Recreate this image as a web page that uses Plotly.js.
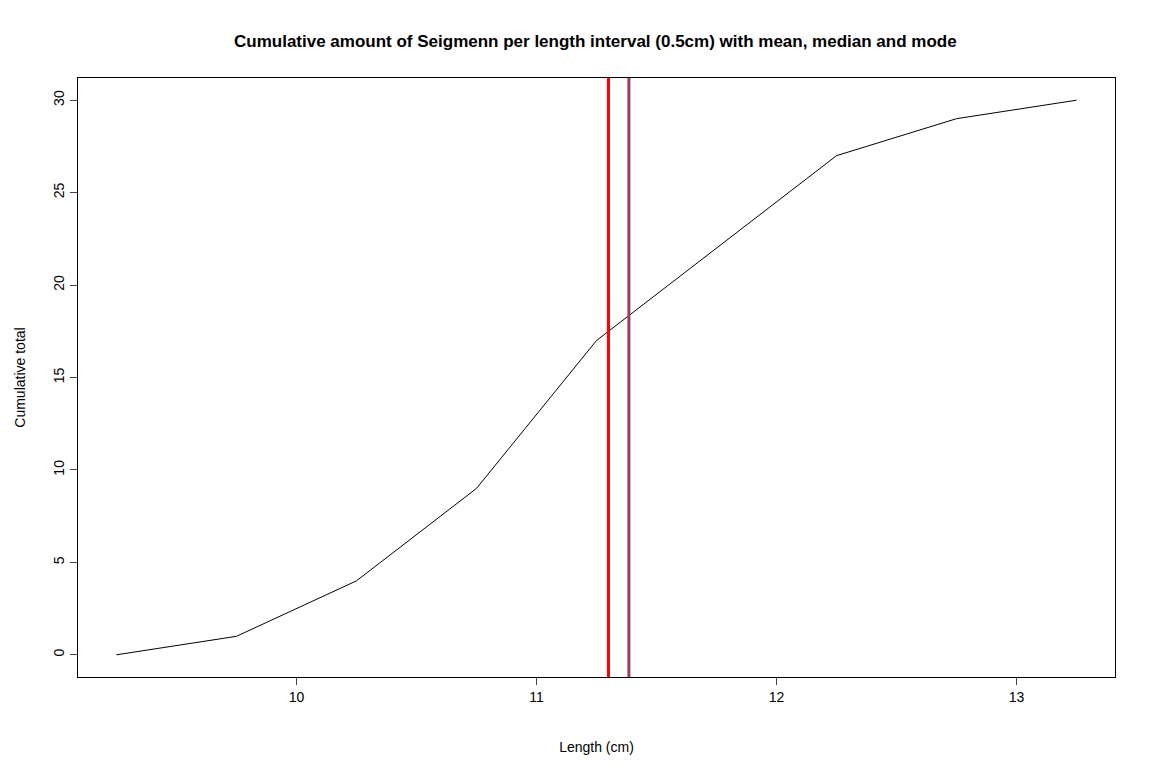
<!DOCTYPE html>
<html><head><script src="https://cdn.plot.ly/plotly-3.0.1.min.js"></script>
<style>body{margin:0}</style></head><body>
<div id="c" style="width:1156px;height:776px"></div>
<script>
const lengths = [9.25, 9.75, 10.25, 10.75, 11.25, 11.75, 12.25, 12.75, 13.25];
const cumulative = [0, 1, 4, 9, 17, 22, 27, 29, 30];
const meanVal = 11.30;
const medianVal = 11.385;
const xTicks = [10, 11, 12, 13];
const yTicks = [0, 5, 10, 15, 20, 25, 30];
const traces = [
 {x: lengths, y: cumulative, mode: 'lines', line: {color: 'black', width: 1}},
 {x: [meanVal, meanVal], y: [-5, 40], mode: 'lines', line: {color: '#ff0000', width: 3}},
 {x: [medianVal, medianVal], y: [-5, 40], mode: 'lines', line: {color: '#a33a5e', width: 3}}
];
const layout = {
 width: 1156, height: 776, showlegend: false,
 margin: {l: 78, r: 41, t: 78, b: 99},
 paper_bgcolor: 'white', plot_bgcolor: 'white',
 font: {family: 'Liberation Sans, Arial, sans-serif', size: 14, color: 'black'},
 title: {text: '<b>Cumulative amount of Seigmenn per length interval (0.5cm) with mean, median and mode</b>', x: 0.515, xanchor: 'center', y: 0.955, font: {size: 17}},
 xaxis: {range: [9.09, 13.41], tickvals: xTicks, tickfont: {size: 14}, showgrid: false, zeroline: false, showline: true, mirror: true, linecolor: 'black', ticks: 'outside', ticklen: 7, title: {text: 'Length (cm)', standoff: 38, font: {size: 14}}},
 yaxis: {range: [-1.2, 31.2], tickvals: yTicks, tickfont: {size: 14}, showgrid: false, zeroline: false, showline: true, mirror: true, linecolor: 'black', ticks: 'outside', ticklen: 7, tickangle: -90, title: {text: 'Cumulative total', standoff: 22, font: {size: 14}}}
};
Plotly.newPlot('c', traces, layout, {displayModeBar: false});
</script></body></html>
